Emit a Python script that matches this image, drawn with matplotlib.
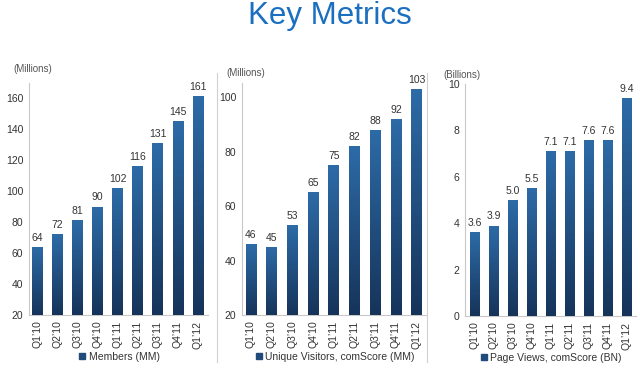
import numpy as np
import matplotlib.pyplot as plt
from matplotlib.colors import LinearSegmentedColormap
from matplotlib.lines import Line2D

plt.rcParams["font.family"] = ["Liberation Sans", "DejaVu Sans"]

quarters = ["Q1’10", "Q2’10", "Q3’10", "Q4’10", "Q1’11", "Q2’11", "Q3’11", "Q4’11", "Q1’12"]
members = [64, 72, 81, 90, 102, 116, 131, 145, 161]
visitors = [46, 45, 53, 65, 75, 82, 88, 92, 103]
page_views = [3.6, 3.9, 5.0, 5.5, 7.1, 7.1, 7.6, 7.6, 9.4]

TEXT = "#333333"
AXIS = "#c8c8c8"
bar_cmap = LinearSegmentedColormap.from_list("bar", ["#16345a", "#2d6ba7"])


def gradient_bars(ax, values, bottom, fmt):
    bars = ax.bar(range(len(values)), [v - bottom for v in values], bottom=bottom,
                  width=0.52, color="#1f4a7a", zorder=2)
    grad = np.linspace(0, 1, 64).reshape(-1, 1)
    for bar, v in zip(bars, values):
        x0 = bar.get_x()
        x1 = x0 + bar.get_width()
        im = ax.imshow(grad, cmap=bar_cmap, origin="lower", aspect="auto",
                       extent=(x0, x1, bottom, v), zorder=3)
        im.set_clip_path(bar)
        ax.annotate(fmt.format(v), (bar.get_x() + bar.get_width() / 2, v),
                    xytext=(0, 3), textcoords="offset points",
                    ha="center", va="bottom", fontsize=7.5, color=TEXT, zorder=4)
    return bars


def style_panel(ax, ylim, yticks, xlim, unit, unit_pos, legend_label):
    ax.set_ylim(*ylim)
    ax.set_xlim(*xlim)
    ax.set_yticks(yticks)
    ax.set_xticks(range(len(quarters)))
    ax.set_xticklabels(quarters, rotation=90)
    ax.tick_params(length=0, labelsize=7.5, colors=TEXT, pad=4)
    for s in ("top", "right"):
        ax.spines[s].set_visible(False)
    for s in ("left", "bottom"):
        ax.spines[s].set_color(AXIS)
        ax.spines[s].set_linewidth(0.8)
    ax.text(unit_pos[0], unit_pos[1], unit, transform=ax.transAxes, ha="center",
            va="center", fontsize=7, color="#555555")
    handle = Line2D([], [], marker="s", linestyle="none", color="#1f4a7a", markersize=5)
    ax.legend([handle], [legend_label], loc="center", bbox_to_anchor=(0.5, -0.18),
              frameon=False, fontsize=7.5, handletextpad=0.1, labelcolor=TEXT,
              handlelength=1.0, borderaxespad=0)


fig = plt.figure(figsize=(6.4, 3.76), dpi=100)
fig.text(0.516, 0.957, "Key Metrics", ha="center", va="center", fontsize=22.5,
         color="#1b6fc1")

ax1 = fig.add_axes([29 / 640, 1 - 315 / 376, 179 / 640, (315 - 82.5) / 376])
gradient_bars(ax1, members, 20, "{:d}")
style_panel(ax1, (20, 170), range(20, 161, 20), (-0.4, 8.5), "(Millions)",
            (0.02, 1.06), "Members (MM)")

ax2 = fig.add_axes([242 / 640, 1 - 315 / 376, 185 / 640, (315 - 83.4) / 376])
gradient_bars(ax2, visitors, 20, "{:d}")
style_panel(ax2, (20, 105), range(20, 101, 20), (-0.43, 8.5), "(Millions)",
            (0.02, 1.045), "Unique Visitors, comScore (MM)")

ax3 = fig.add_axes([465 / 640, 1 - 316 / 376, 171 / 640, (316 - 84) / 376])
gradient_bars(ax3, page_views, 0, "{:.1f}")
style_panel(ax3, (0, 10), range(0, 11, 2), (-0.5, 8.5), "(Billions)",
            (-0.02, 1.04), "Page Views, comScore (BN)")

for xp in (217, 427):
    fig.add_artist(Line2D([xp / 640, xp / 640], [1 - 73 / 376, 1 - 362 / 376],
                          color="#d0d0d0", linewidth=0.8))

fig.savefig("out.png", dpi=100)
